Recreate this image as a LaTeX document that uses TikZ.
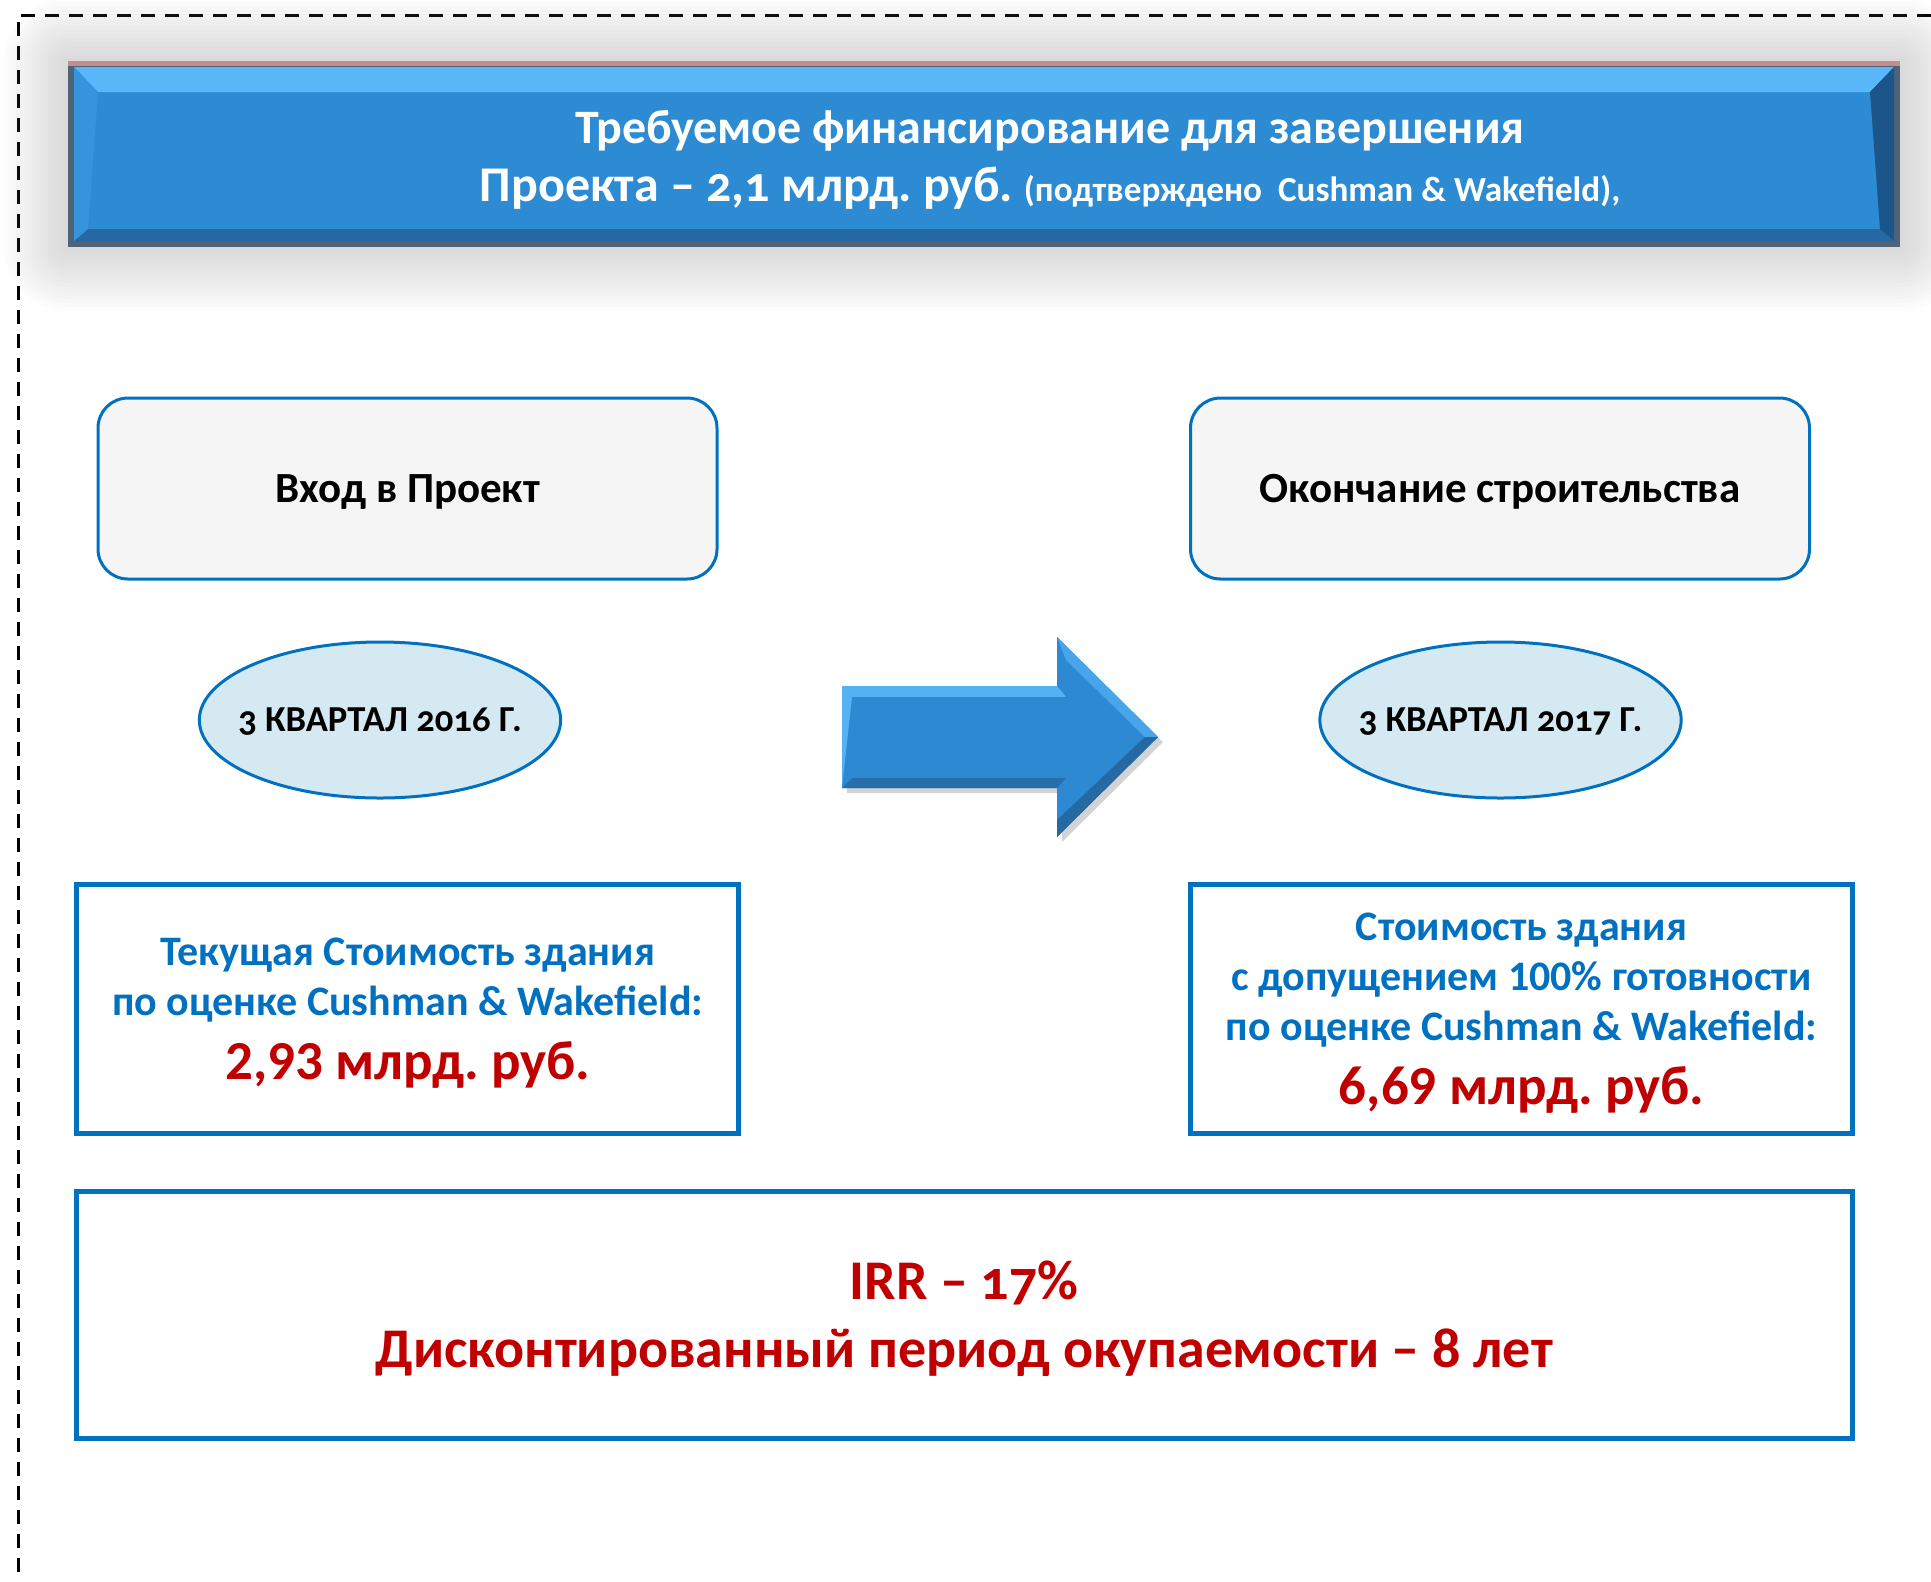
\documentclass[tikz,border=0pt]{standalone}
\usepackage{fontspec}
\setmainfont{Carlito}
\newfontfamily\osfont{Carlito}[Numbers=OldStyle]
\usetikzlibrary{shapes.geometric,shadows}

\definecolor{boxblue}{HTML}{0070C0}
\definecolor{valred}{HTML}{C00000}
\definecolor{stagegray}{HTML}{F5F5F6}
\definecolor{bubblefill}{HTML}{D5E9F3}
\definecolor{hdrfill}{HTML}{2C8BD3}
\definecolor{hdrlight}{HTML}{5AB8FA}
\definecolor{hdrdark}{HTML}{2568A2}
\definecolor{hdrdeep}{HTML}{1B5589}
\definecolor{hdrrim}{HTML}{4F6378}
\definecolor{hdrred}{HTML}{C48C8C}
\definecolor{arrowblue}{HTML}{2D89D1}

\tikzset{
  stagebox/.style={draw=boxblue, line width=1.5pt, fill=stagegray, rounded corners=15pt,
    minimum width=309.5pt, minimum height=90.5pt, text depth=0pt,
    font=\bfseries\fontsize{21.5}{25}\selectfont},
  datebubble/.style={ellipse, draw=boxblue, line width=1.5pt, fill=bubblefill,
    inner xsep=-7pt, inner ysep=0pt, text depth=0pt,
    minimum width=180.5pt, minimum height=78pt, font=\bfseries\osfont\fontsize{18.3}{22}\selectfont},
  valuebox/.style={draw=boxblue, line width=2.5pt, fill=white, align=center,
    minimum width=331pt, minimum height=124.5pt, text=boxblue, text depth=0pt,
    font=\bfseries\fontsize{21}{25}\selectfont},
  sumbox/.style={draw=boxblue, line width=2.5pt, fill=white, align=center,
    minimum width=888pt, minimum height=123.5pt, text=valred, text depth=0pt,
    font=\bfseries\fontsize{28}{34}\selectfont}
}

\begin{document}
\frenchspacing
\begin{tikzpicture}[x=0.5pt,y=-0.5pt]
\useasboundingbox (0,0) rectangle (1931,1581);

% dashed frame
\draw[black, line width=1.5pt, dash pattern=on 7pt off 5pt] (1931,15) -- (18,15) -- (18,1581);

% header glow and bevel
\foreach \g in {4,8,...,64}
  \fill[black!45, opacity=0.022, rounded corners=\g*0.5pt] (68-\g,62-\g) rectangle (1900+\g,247+\g);
\fill[hdrrim] (68,62) rectangle (1900,247);
\fill[hdrred] (68,61) rectangle (1900,66);
\fill[hdrfill] (74,67) rectangle (1894,241);
\fill[hdrlight] (74,67) -- (1894,67) -- (1870,92) -- (98,92) -- cycle;
\fill[hdrdark] (74,241) -- (1894,241) -- (1880,229) -- (88,229) -- cycle;
\fill[hdrdeep] (1894,67) -- (1894,241) -- (1880,229) -- (1870,92) -- cycle;
\fill[hdrfill!80!hdrlight] (74,67) -- (98,92) -- (88,229) -- (74,241) -- cycle;
\node[text=white, align=center, font=\bfseries\osfont\fontsize{24}{29}\selectfont] (title) at (1050,160)
  {Требуемое финансирование для завершения\\
   {\fontsize{25}{29}\selectfont Проекта – 2,1 млрд. руб.} {\fontsize{17.6}{29}\selectfont (подтверждено\ \ Cushman \& Wakefield),}};

% stages
\node[stagebox] (entry) at (407.5,488.5) {Вход в Проект};
\node[stagebox] (finish) at (1500,488.5) {Окончание строительства};

\node[datebubble] (q1) at (380,720) {3 КВАРТАЛ 2016 Г.};
\node[datebubble] (q2) at (1500.5,720) {3 КВАРТАЛ 2017 Г.};

% block arrow
\fill[arrowblue, drop shadow={opacity=0.35, shadow xshift=2.5pt, shadow yshift=-2.5pt}]
  (842,686) -- (1057,686) -- (1057,637) -- (1158,737) -- (1057,837) -- (1057,788) -- (842,788) -- cycle;
\fill[hdrlight!85!arrowblue] (842,686) -- (1057,686) -- (1066,697) -- (852,697) -- (842,788) -- cycle;
\fill[arrowblue] (852,697) -- (1066,697) -- (1066,778) -- (852,778) -- cycle;
\fill[hdrlight!60!arrowblue] (1057,637) -- (1158,737) -- (1145,737) -- (1066,660) -- cycle;
\fill[hdrdark] (1158,737) -- (1057,837) -- (1057,820) -- (1145,737) -- cycle;
\fill[hdrdark!80!arrowblue] (842,788) -- (1057,788) -- (1066,778) -- (852,778) -- cycle;

% values
\node[valuebox] (nowval) at (407.7,1008.5)
  {Текущая Стоимость здания\\
   по оценке Cushman \& Wakefield:\\[7pt]
   {\color{valred}\fontsize{27.5}{30}\selectfont 2,93 млрд. руб.}};
\node[valuebox] (endval) at (1521.5,1008.5)
  {Стоимость здания\\
   с допущением 100\% готовности\\
   по оценке Cushman \& Wakefield:\\[7pt]
   {\color{valred}\fontsize{27.5}{30}\selectfont 6,69 млрд. руб.}};

\node[sumbox] (irr) at (964,1314.5)
  {IRR – {\osfont 17\%}\\
   Дисконтированный период окупаемости – 8 лет};
\end{tikzpicture}
\end{document}
